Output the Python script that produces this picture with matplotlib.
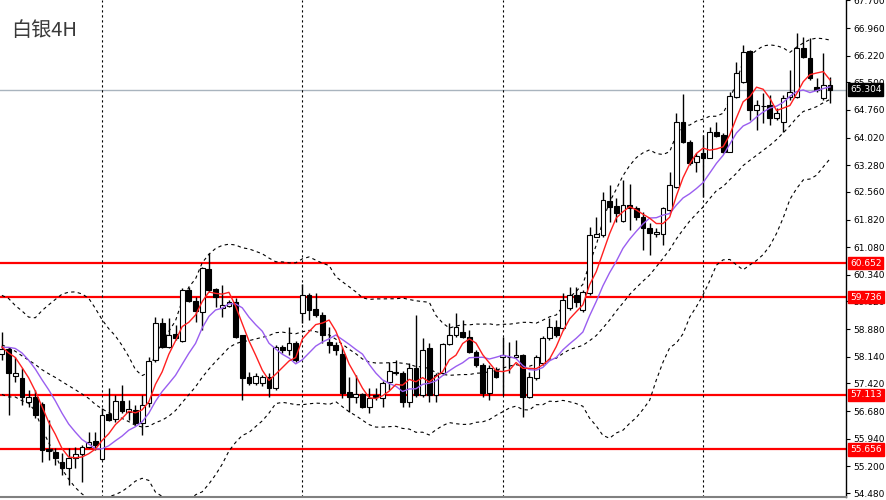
import numpy as np
import pandas as pd
import matplotlib
matplotlib.use("Agg")
import matplotlib.pyplot as plt

# --- data (silver, 4H) ---
# closes before the first visible bar, only used to warm up the indicators
pre_closes = [59.2, 59.6, 59.5, 59.4, 58.9, 58.4, 57.8, 57.4, 57.4, 57.6,
              57.7, 58.0, 58.25, 59.0, 58.95, 58.5, 58.3, 58.4, 58.45]

opens = [58.21, 58.35, 57.62, 57.57, 56.92, 57.06, 56.87, 55.66, 55.58, 55.31,
         55.15, 55.42, 55.53, 55.72, 55.88, 55.39, 56.60, 56.47, 56.95, 56.65,
         56.71, 56.36, 56.90, 58.05, 59.04, 58.40, 58.75, 58.56, 59.93, 59.63,
         59.34, 60.49, 59.96, 59.45, 59.50, 59.61, 58.72, 57.59, 57.43, 57.43,
         57.59, 57.30, 58.40, 58.32, 58.51, 59.31, 59.79, 59.42, 59.26, 58.53,
         58.45, 58.21, 57.19, 57.06, 57.14, 56.79, 57.11, 57.03, 57.46, 57.73,
         57.70, 56.92, 57.84, 57.11, 58.37, 57.11, 57.70, 58.48, 58.72, 58.80,
         58.67, 58.27, 57.92, 57.16, 57.78, 58.13, 58.14, 58.13, 58.18, 57.06,
         57.57, 57.97, 58.64, 58.94, 58.91, 59.45, 59.79, 59.39, 59.85, 61.35,
         61.40, 62.32, 62.18, 61.78, 62.21, 62.13, 61.89, 61.59, 61.43, 61.43,
         62.08, 62.69, 64.44, 63.90, 63.36, 63.61, 63.47, 64.17, 64.09, 63.63,
         65.11, 65.51, 66.34, 64.76, 64.87, 64.89, 64.54, 64.44, 65.11, 65.11,
         66.42, 66.15, 65.38, 65.08, 65.43]
highs = [58.80, 58.40, 58.13, 57.84, 57.25, 57.25, 56.92, 56.44, 55.69, 55.55,
         55.69, 55.72, 55.77, 56.12, 56.12, 56.76, 57.30, 57.11, 57.38, 56.98,
         56.84, 57.11, 58.13, 59.20, 59.18, 59.18, 58.99, 59.98, 60.01, 59.74,
         60.55, 60.92, 59.98, 60.06, 59.66, 59.71, 58.72, 57.73, 57.70, 57.65,
         57.70, 58.45, 58.45, 58.94, 58.56, 60.09, 59.85, 59.85, 59.34, 58.94,
         58.53, 58.40, 57.59, 57.65, 57.16, 57.30, 57.30, 57.49, 58.00, 58.05,
         57.76, 57.97, 59.26, 58.64, 58.51, 57.70, 58.51, 59.04, 59.31, 59.12,
         58.86, 58.32, 57.97, 57.92, 57.86, 58.67, 58.53, 58.59, 58.21, 57.73,
         58.18, 58.69, 59.18, 59.12, 59.85, 60.01, 60.01, 59.93, 61.62, 61.89,
         62.56, 62.75, 62.40, 62.88, 62.77, 62.18, 62.02, 61.73, 61.59, 62.16,
         63.10, 64.68, 65.19, 63.95, 63.61, 64.09, 64.30, 64.44, 64.14, 65.24,
         66.05, 66.50, 66.37, 65.03, 65.22, 65.16, 64.81, 65.16, 65.83, 66.83,
         66.72, 66.69, 65.62, 66.29, 65.645]
lows = [58.05, 56.57, 57.46, 56.84, 56.79, 56.49, 55.31, 55.37, 55.23, 54.96,
        54.69, 55.15, 54.77, 55.69, 55.63, 55.37, 56.41, 56.39, 56.63, 56.44,
        56.31, 56.04, 56.79, 57.99, 58.37, 58.37, 58.59, 58.53, 59.61, 59.07,
        58.86, 59.87, 59.47, 59.20, 59.47, 58.64, 56.98, 57.38, 57.38, 57.35,
        57.06, 57.25, 58.24, 58.18, 57.99, 59.04, 59.12, 59.20, 58.51, 58.24,
        58.18, 57.03, 56.65, 56.90, 56.76, 56.63, 56.98, 56.79, 57.25, 57.65,
        56.79, 56.79, 57.06, 57.06, 56.92, 56.92, 57.65, 58.45, 58.67, 58.64,
        58.24, 57.86, 57.06, 56.98, 57.57, 57.11, 57.70, 58.10, 56.52, 57.03,
        57.51, 57.92, 58.59, 58.67, 58.86, 59.39, 59.47, 59.34, 59.79, 61.35,
        61.35, 61.75, 61.75, 61.75, 61.54, 61.81, 61.00, 60.87, 61.35, 61.14,
        62.02, 62.67, 63.87, 63.28, 63.10, 62.43, 63.47, 64.04, 63.61, 63.63,
        65.08, 65.48, 64.49, 64.22, 64.41, 64.36, 64.49, 64.17, 65.03, 65.08,
        66.15, 65.56, 65.24, 65.03, 64.95]
closes = [58.35, 57.70, 57.70, 57.06, 57.06, 56.57, 55.63, 55.61, 55.42, 55.15,
          55.42, 55.53, 55.72, 55.85, 55.77, 56.57, 56.44, 56.95, 56.68, 56.73,
          56.36, 56.84, 58.02, 59.04, 58.40, 58.72, 58.64, 59.93, 59.63, 59.37,
          60.52, 59.93, 59.74, 59.53, 59.61, 58.67, 57.57, 57.43, 57.62, 57.59,
          57.30, 58.40, 58.32, 58.51, 58.05, 59.79, 59.39, 59.26, 58.72, 58.45,
          58.32, 57.16, 57.06, 57.14, 56.79, 57.03, 57.06, 57.43, 57.76, 57.70,
          56.92, 57.84, 57.11, 58.32, 57.11, 57.65, 58.48, 58.72, 58.94, 58.67,
          58.27, 57.92, 57.16, 57.84, 57.59, 58.18, 58.12, 58.18, 57.06, 57.59,
          58.13, 58.64, 58.94, 58.72, 59.66, 59.79, 59.61, 59.87, 61.40, 61.43,
          62.34, 62.16, 61.99, 62.21, 62.13, 61.89, 61.59, 61.46, 61.49, 62.13,
          62.75, 64.44, 63.90, 63.34, 63.53, 63.47, 64.17, 64.06, 63.63, 65.14,
          65.75, 66.32, 64.76, 64.89, 64.86, 64.54, 64.68, 65.08, 65.24, 66.42,
          66.18, 65.62, 65.30, 65.43, 65.304]

levels = [60.652, 59.736, 57.113, 55.656]
last_price = 65.304
ytick_vals = [67.700, 66.960, 66.220, 65.500, 64.760, 64.020, 63.280, 62.560,
              61.820, 61.080, 60.340, 59.620, 58.880, 58.140, 57.420, 56.680,
              55.940, 55.200, 54.480]
sep_bars = [15, 45, 75, 105]
title = "白银4H"

# --- indicators ---
allc = pd.Series(pre_closes + closes)
npre = len(pre_closes)
mid = allc.rolling(20).mean()
sd = allc.rolling(20).std(ddof=0)
up = (mid + 2 * sd).values[npre:]
lo = (mid - 2 * sd).values[npre:]
mid = mid.values[npre:]
ma_fast = allc.rolling(5).mean().values[npre:]
ma_slow = allc.rolling(10).mean().values[npre:]

o = np.array(opens); h = np.array(highs); l = np.array(lows); c = np.array(closes)
x = np.arange(len(c))

fig = plt.figure(figsize=(8.86, 5.0), dpi=100)
ax = fig.add_axes([0, 3 / 500, 846 / 886, 497 / 500])

# horizontal levels
for lv in levels:
    ax.axhline(lv, color="#ff0000", lw=1.6, zorder=1)
ax.axhline(last_price, color="#a9b4be", lw=1, zorder=1)

for b in sep_bars:
    ax.axvline(b, color="black", lw=0.8, ls=(0, (2, 2.5)), zorder=1)

# bollinger bands
for band in (up, mid, lo):
    ax.plot(x, band, color="black", lw=0.8, ls=(0, (3, 3)), zorder=2)

# candles
ax.vlines(x, l, h, color="black", lw=1, zorder=3)
bull = c >= o
body_lo = np.minimum(o, c)
body_h = np.maximum(np.abs(c - o), 0.012)
ax.bar(x[bull], body_h[bull], bottom=body_lo[bull], width=0.72,
       facecolor="white", edgecolor="black", lw=0.8, zorder=4)
ax.bar(x[~bull], body_h[~bull], bottom=body_lo[~bull], width=0.72,
       facecolor="black", edgecolor="black", lw=0.8, zorder=4)

# moving averages
ax.plot(x, ma_slow, color="#9a5ef0", lw=1, zorder=5)
ax.plot(x, ma_fast, color="#ff2020", lw=1, zorder=5)

ax.set_xlim(-0.28, 126.4)
ax.set_ylim(54.373, 67.7115)

ax.yaxis.tick_right()
ax.set_yticks(ytick_vals)
ax.set_yticklabels(["%.3f" % v for v in ytick_vals])
ax.tick_params(axis="y", length=3, width=0.8, pad=2, labelsize=6.5, colors="black")
ax.set_xticks([])
for s in ("left", "top"):
    ax.spines[s].set_visible(False)
ax.spines["right"].set_linewidth(1)
ax.spines["bottom"].set_color("#808080")
ax.spines["bottom"].set_linewidth(1.5)

# price boxes on the right scale
def price_box(val, bg):
    ax.annotate("%.3f" % val, xy=(1.0, val), xycoords=("axes fraction", "data"),
                xytext=(3, 0), textcoords="offset points", va="center", ha="left",
                fontsize=6.5, color="white", zorder=10, annotation_clip=False,
                bbox=dict(boxstyle="square,pad=0.2", fc=bg, ec=bg))

for lv in levels:
    price_box(lv, "#ff0000")
price_box(last_price, "black")

fig.text(11 / 886, 1 - 31 / 500, title, fontsize=14.5, color="#3a3a3a",
         va="center", ha="left", family=["Noto Sans CJK SC", "DejaVu Sans"])

fig.savefig("out.png", dpi=100)
